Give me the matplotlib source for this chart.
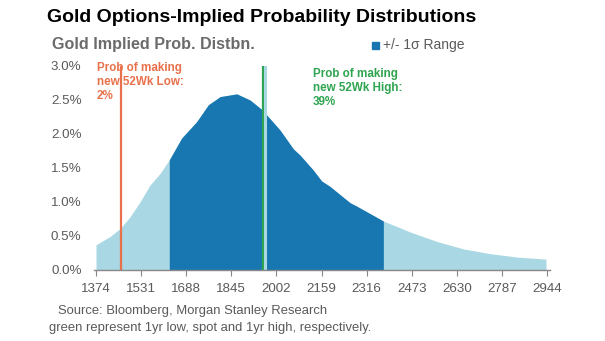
import numpy as np
import matplotlib.pyplot as plt
from matplotlib.patches import Rectangle

plt.rcParams['font.family'] = ['Liberation Sans', 'DejaVu Sans']

# implied probability distribution (price level, probability in %)
price = [1374, 1422, 1458, 1492, 1527, 1562, 1597, 1629, 1672, 1724, 1765,
         1806, 1864, 1910, 1954, 1968, 2014, 2061, 2084, 2130, 2159, 2188,
         2258, 2281, 2374, 2467, 2560, 2653, 2746, 2839, 2940]
prob = [0.37, 0.49, 0.61, 0.78, 1.00, 1.25, 1.42, 1.62, 1.94, 2.18, 2.43,
        2.55, 2.59, 2.50, 2.35, 2.28, 2.06, 1.78, 1.69, 1.47, 1.31, 1.23,
        0.99, 0.94, 0.72, 0.56, 0.42, 0.31, 0.24, 0.19, 0.16]

sigma_lo = 1629
sigma_hi = 2374
low_52wk = 1462
high_52wk = 1954
spot = 1963

xticks = [1374, 1531, 1688, 1845, 2002, 2159, 2316, 2473, 2630, 2787, 2944]
yticks = [0, 0.5, 1.0, 1.5, 2.0, 2.5, 3.0]

light = '#a9d7e3'
dark = '#1877b1'
orange = '#e8714b'
green = '#2ea450'
grey = '#5a5a5a'

W, H = 605, 341
fig = plt.figure(figsize=(W / 100, H / 100), dpi=100)
ax = fig.add_axes([94 / W, 1 - 270 / H, 456 / W, 204 / H])

x = np.array(price)
y = np.array(prob)
ax.fill_between(x, 0, y, color=light, lw=0)
inside = (x >= sigma_lo) & (x <= sigma_hi)
ax.fill_between(x, 0, y, where=inside, color=dark, lw=0)

ax.plot([low_52wk, low_52wk], [0, 3.0], color=orange, lw=1.6)
ax.plot([high_52wk, high_52wk], [0, 3.03], color=green, lw=1.6)
ax.plot([spot, spot], [0, 3.03], color=light, lw=2.2)

ax.text(1377, 3.06, 'Prob of making\nnew 52Wk Low:\n2%', color=orange,
        fontsize=8.4, fontweight='bold', va='top', ha='left', linespacing=1.22)
ax.text(2128, 2.97, 'Prob of making\nnew 52Wk High:\n39%', color=green,
        fontsize=8.4, fontweight='bold', va='top', ha='left', linespacing=1.22)

ax.set_xlim(1367, 2954)
ax.set_ylim(0, 3.0)
ax.set_xticks(xticks)
ax.set_xticklabels([str(t) for t in xticks])
ax.set_yticks(yticks)
ax.set_yticklabels(['%.1f%%' % t for t in yticks])
for s in ['top', 'right', 'left']:
    ax.spines[s].set_visible(False)
ax.spines['bottom'].set_color('#888888')
ax.spines['bottom'].set_linewidth(1.0)
ax.tick_params(axis='x', colors='#888888', length=4, width=0.8,
               labelsize=9.6, labelcolor=grey, pad=5)
ax.tick_params(axis='y', length=0, labelsize=9.6, labelcolor=grey, pad=9)

fig.text(47 / W, 1 - 17 / H, 'Gold Options-Implied Probability Distributions',
         fontsize=14, fontweight='bold', color='black', va='center', ha='left')
fig.text(52 / W, 1 - 45 / H, 'Gold Implied Prob. Distbn.',
         fontsize=11.6, fontweight='bold', color='#6b6b6b', va='center', ha='left')
fig.patches.append(Rectangle((372 / W, 1 - 49 / H), 7 / W, 7 / H,
                             transform=fig.transFigure, color=dark))
fig.text(383 / W, 1 - 45 / H, '+/- 1σ Range', fontsize=10, color=grey,
         va='center', ha='left')
fig.text(58 / W, 1 - 311 / H, 'Source: Bloomberg, Morgan Stanley Research',
         fontsize=9.4, color=grey, va='center', ha='left')
fig.text(49 / W, 1 - 328 / H,
         'green represent 1yr low, spot and 1yr high, respectively.',
         fontsize=9.4, color=grey, va='center', ha='left')

fig.savefig('out.png', dpi=100)
